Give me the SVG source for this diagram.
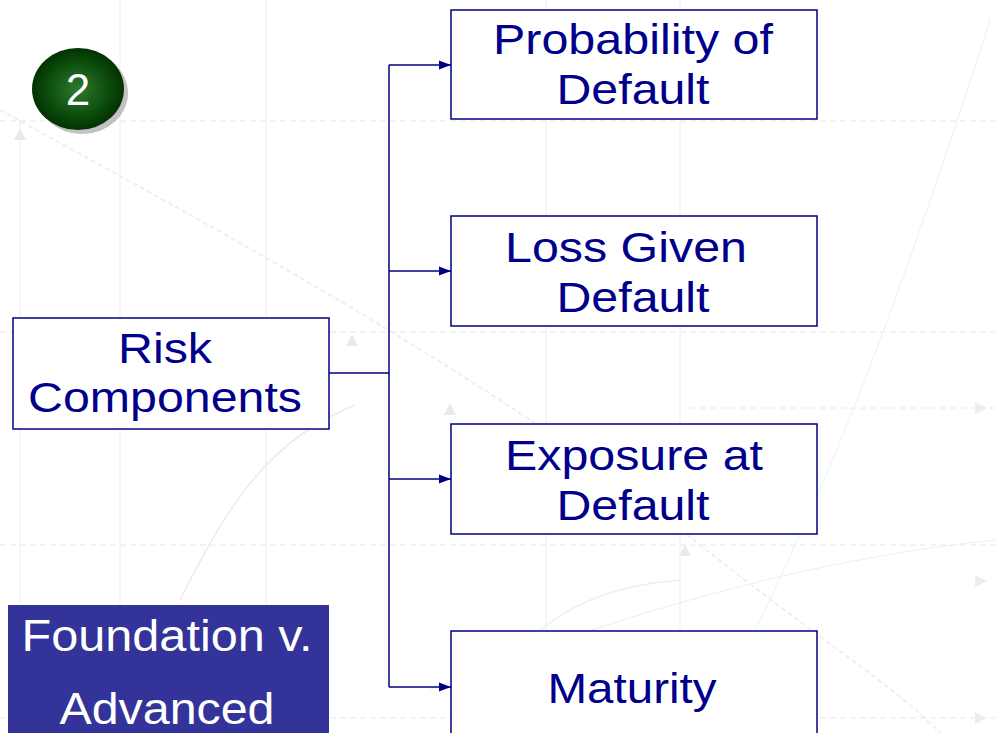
<svg xmlns="http://www.w3.org/2000/svg" width="995" height="733" viewBox="0 0 995 733">
  <style>
    .box { fill: #ffffff; stroke: #000080; stroke-width: 1.5; }
    .lbl { font-family: "Liberation Sans", Arial, sans-serif; font-size: 42px; fill: #00008b; text-anchor: middle; }
    .wlbl { font-family: "Liberation Sans", Arial, sans-serif; font-size: 45px; fill: #ffffff; text-anchor: middle; }
    .wire { fill: none; stroke: #000080; stroke-width: 1.5; }
    .grid { stroke: #f0f0f3; stroke-width: 1.5; fill: none; }
    .dash { stroke: #ebebef; stroke-width: 1.5; stroke-dasharray: 6 4; fill: none; }
  </style>
  <defs>
    <marker id="arrow" viewBox="0 0 12 10" refX="12" refY="5" markerWidth="12" markerHeight="10" markerUnits="userSpaceOnUse" orient="auto">
      <path d="M0,0.5 L12,5 L0,9.5 Z" fill="#000080"/>
    </marker>
    <radialGradient id="ball" cx="0.5" cy="0.5" r="0.55">
      <stop offset="0" stop-color="#2f7a2f"/>
      <stop offset="0.6" stop-color="#0c4d0c"/>
      <stop offset="1" stop-color="#002a00"/>
    </radialGradient>
  </defs>

  <rect width="995" height="733" fill="#ffffff"/>

  <!-- faint chart backdrop -->
  <g id="backdrop" opacity="0.75">
    <path class="grid" d="M20,120 V733 M120,0 V733 M266,0 V733 M546,0 V733 M680,0 V733"/>
    <path class="dash" d="M0,121 H995 M0,332 H995 M0,545 H995 M0,718 H995 M690,408 H995"/>
    <path d="M0,110 C200,220 500,380 700,545 C820,640 900,690 940,733" fill="none" stroke="#e4e4f0" stroke-width="1.5" stroke-dasharray="5 3"/>
    <path d="M180,600 C230,500 270,440 355,405" fill="none" stroke="#f6dede" stroke-width="1.5"/>
    <path d="M450,733 C520,640 560,590 680,580" fill="none" stroke="#dff2df" stroke-width="1.5"/>
    <path d="M430,690 C600,620 800,560 995,540" fill="none" stroke="#f6e4e4" stroke-width="1.2"/>
    <path d="M700,733 C820,520 900,300 990,20" fill="none" stroke="#e6f2f2" stroke-width="1.2"/>
    <path d="M14,140 L20,128 L26,140 Z M346,346 L352,334 L358,346 Z M444,415 L450,403 L456,415 Z M679,556 L685,544 L691,556 Z" fill="#e4e4e4"/>
    <path d="M975,402 L987,408 L975,414 Z M975,575 L987,581 L975,587 Z M975,712 L987,718 L975,724 Z" fill="#e8e8e8"/>
  </g>

  <!-- step badge -->
  <g id="badge">
    <ellipse cx="82" cy="93" rx="46" ry="41" fill="#9a9a9a" opacity="0.6"/>
    <ellipse cx="78" cy="89" rx="46" ry="41" fill="url(#ball)"/>
    <text x="78" y="105" font-family="Liberation Sans, Arial, sans-serif" font-size="44" fill="#ffffff" text-anchor="middle">2</text>
  </g>

  <!-- connectors -->
  <g id="connectors">
    <path class="wire" d="M329,373 H389 M389,65 V687"/>
    <path class="wire" d="M389,65 H451" marker-end="url(#arrow)"/>
    <path class="wire" d="M389,271 H451" marker-end="url(#arrow)"/>
    <path class="wire" d="M389,479 H451" marker-end="url(#arrow)"/>
    <path class="wire" d="M389,687 H451" marker-end="url(#arrow)"/>
  </g>

  <g id="risk-components">
    <rect class="box" x="13" y="318" width="316" height="111"/>
    <text class="lbl" x="165" y="363" textLength="94" lengthAdjust="spacingAndGlyphs">Risk</text>
    <text class="lbl" x="165" y="412" textLength="274" lengthAdjust="spacingAndGlyphs">Components</text>
  </g>

  <g id="probability-of-default">
    <rect class="box" x="451" y="10" width="366" height="109"/>
    <text class="lbl" x="633" y="54" textLength="280" lengthAdjust="spacingAndGlyphs">Probability of</text>
    <text class="lbl" x="633" y="104" textLength="153" lengthAdjust="spacingAndGlyphs">Default</text>
  </g>

  <g id="loss-given-default">
    <rect class="box" x="451" y="216" width="366" height="110"/>
    <text class="lbl" x="626" y="262" textLength="242" lengthAdjust="spacingAndGlyphs">Loss Given</text>
    <text class="lbl" x="633" y="312" textLength="153" lengthAdjust="spacingAndGlyphs">Default</text>
  </g>

  <g id="exposure-at-default">
    <rect class="box" x="451" y="424" width="366" height="110"/>
    <text class="lbl" x="634" y="470" textLength="258" lengthAdjust="spacingAndGlyphs">Exposure at</text>
    <text class="lbl" x="633" y="520" textLength="153" lengthAdjust="spacingAndGlyphs">Default</text>
  </g>

  <g id="maturity">
    <rect class="box" x="451" y="631" width="366" height="110"/>
    <text class="lbl" x="632" y="703" textLength="169" lengthAdjust="spacingAndGlyphs">Maturity</text>
  </g>

  <g id="foundation-v-advanced">
    <rect x="8" y="605" width="321" height="140" fill="#333399"/>
    <text class="wlbl" x="167" y="651" textLength="291" lengthAdjust="spacingAndGlyphs">Foundation v.</text>
    <text class="wlbl" x="167" y="724" textLength="215" lengthAdjust="spacingAndGlyphs">Advanced</text>
  </g>
</svg>
